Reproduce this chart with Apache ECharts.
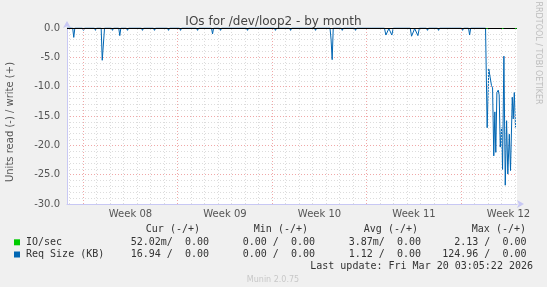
<!DOCTYPE html>
<html>
<head>
<meta charset="utf-8">
<script src="https://cdn.jsdelivr.net/npm/echarts@6/dist/echarts.min.js"></script>
<style>
html,body{margin:0;padding:0;background:#F0F0F0;}
#c{width:547px;height:287px;}
</style>
</head>
<body>
<div id="c"></div>
<script>
// ---- Data (x = days since start of Week 08) ----
const weekLabels = ['Week 08', 'Week 09', 'Week 10', 'Week 11', 'Week 12'];
const weekCenters = [3.5, 10.5, 17.5, 24.5, 31.5];
const weekStarts = [0, 7, 14, 21, 28];
const dayLines = [-1, 1, 2, 3, 4, 5, 6, 8, 9, 10, 11, 12, 13, 15, 16, 17, 18, 19, 20, 22, 23, 24, 25, 26, 27, 29, 30, 31, 32];

// Req Size (KB), read plotted negative
const reqTimes = [
  -1.20, -0.78, -0.70, -0.62, -0.06, 0.02, 0.10, 0.83, 0.91, 0.99,
  1.33, 1.41, 1.50, 1.58, 2.09, 2.17, 2.25, 2.63, 2.71, 2.79,
  3.20, 3.28, 3.36, 4.31, 4.39, 4.47, 5.20, 5.28, 5.36, 6.24, 6.32, 6.40,
  7.13, 7.21, 7.29, 8.39, 8.47, 8.55, 9.50, 9.58, 9.66, 10.09, 10.17, 10.25,
  11.05, 11.13, 11.21, 12.09, 12.17, 12.25, 13.05, 13.13, 13.21, 14.16, 14.24, 14.32,
  15.28, 15.36, 15.44, 16.24, 16.32, 16.40, 17.13, 17.21, 17.29,
  18.28, 18.36, 18.44, 18.52, 19.11, 19.19, 19.27, 20.09, 20.17, 20.25, 21.20, 21.28, 21.36,
  22.31, 22.42, 22.64, 22.86, 22.97, 24.22, 24.32, 24.55, 24.79, 24.90,
  25.42, 25.50, 25.58, 26.24, 26.32, 26.40, 27.28, 27.36, 27.44, 28.02, 28.10, 28.18,
  28.54, 28.62, 28.70, 29.80, 29.92, 30.04, 30.16, 30.24, 30.32, 30.41, 30.49, 30.56,
  30.64, 30.74, 30.81, 30.89, 30.99, 31.06, 31.16, 31.26, 31.36, 31.45, 31.56, 31.65,
  31.78, 31.85, 31.93, 32.02
];
const reqRead = [
  0, 0, -1.6, 0, 0, -0.4, 0, 0, -0.4, 0,
  0, -5.5, -5.6, 0, 0, -0.4, 0, 0, -1.3, 0,
  0, -0.4, 0, 0, -0.4, 0, 0, -0.4, 0, 0, -0.4, 0,
  0, -0.4, 0, 0, -0.4, 0, 0, -1.0, 0, 0, -0.4, 0,
  0, -0.3, 0, 0, -0.4, 0, 0, -0.3, 0, 0, -0.4, 0,
  0, -0.4, 0, 0, -0.3, 0, 0, -0.4, 0,
  0, -2.0, -5.4, 0, 0, -0.4, 0, 0, -0.4, 0, 0, -0.3, 0,
  0, -1.2, -0.1, -1.2, 0, 0, -1.4, -0.1, -1.3, 0,
  0, -0.4, 0, 0, -0.4, 0, 0, -0.3, 0, 0, -0.4, 0,
  0, -1.2, 0, 0, -17.0, -7.0, -7.0, -9.8, -10.2, -21.8, -14.3, -21.2,
  -11.0, -10.6, -11.4, -20.3, -17.0, -24.1, -4.8, -26.8, -15.8, -24.9, -18.1, -24.3,
  -11.8, -15.5, -11.0, -16.94
];

// IO/sec, read plotted negative (tiny values)
const ioTimes = [29.86, 29.96, null, 31.02, 31.12, null, 31.98, 32.10];
const ioRead = [-0.08, -0.08, null, -0.08, -0.08, null, -0.08, -0.08];

// Legend statistics
const statHeaders = ['Cur (-/+)', 'Min (-/+)', 'Avg (-/+)', 'Max (-/+)'];
const ioReadStats = ['52.02m', '0.00', '3.87m', '2.13'];
const ioWriteStats = ['0.00', '0.00', '0.00', '0.00'];
const reqReadStats = ['16.94', '0.00', '1.12', '124.96'];
const reqWriteStats = ['0.00', '0.00', '0.00', '0.00'];
const seriesNames = ['IO/sec', 'Req Size (KB)'];
const seriesColors = ['#00CC00', '#0066B3'];
const lastUpdate = 'Last update: Fri Mar 20 03:05:22 2026';

// ---- Build ----
const reqData = reqTimes.map((t, i) => [t, reqRead[i]]);
const ioData = ioTimes.map((t, i) => t === null ? [null, null] : [t, ioRead[i]]);

const mono = '"DejaVu Sans Mono", monospace';
const sans = '"DejaVu Sans", sans-serif';

function statStr(r, w) {
  return r + (r.endsWith('m') ? '/' : ' /') + '  ' + w;
}
const colRight = [209, 315, 421, 526.5];
const headRight = [200, 308, 418, 526];
const rowY = [242.3, 254.5];

const graphics = [];
statHeaders.forEach((h, i) => {
  graphics.push({type: 'text', style: {text: h, x: headRight[i], y: 229, font: '10px ' + mono, fill: '#333', textAlign: 'right', textVerticalAlign: 'middle'}});
});
[[ioReadStats, ioWriteStats], [reqReadStats, reqWriteStats]].forEach((pair, r) => {
  graphics.push({type: 'rect', shape: {x: 14, y: rowY[r] - 3, width: 6, height: 6}, style: {fill: seriesColors[r]}});
  graphics.push({type: 'text', style: {text: seriesNames[r], x: 26, y: rowY[r], font: '10px ' + mono, fill: '#333', textAlign: 'left', textVerticalAlign: 'middle'}});
  pair[0].forEach((v, c) => {
    graphics.push({type: 'text', style: {text: statStr(v, pair[1][c]), x: colRight[c], y: rowY[r], font: '10px ' + mono, fill: '#333', textAlign: 'right', textVerticalAlign: 'middle'}});
  });
});
graphics.push({type: 'text', style: {text: lastUpdate, x: 533, y: 266.8, font: '10px ' + mono, fill: '#333', textAlign: 'right', textVerticalAlign: 'middle'}});
graphics.push({type: 'text', style: {text: 'Munin 2.0.75', x: 273, y: 280, font: '8px ' + sans, fill: '#C8C8C8', textAlign: 'center', textVerticalAlign: 'middle'}});
graphics.push({type: 'text', x: 538, y: 53, rotation: -Math.PI / 2, style: {text: 'RRDTOOL / TOBI OETIKER', x: 0, y: 0, font: '8px ' + sans, fill: '#BDBDBD', textAlign: 'center', textVerticalAlign: 'middle'}});
graphics.push({type: 'text', x: 10, y: 122, rotation: Math.PI / 2, style: {text: 'Units read (-) / write (+)', x: 0, y: 0, font: '10px ' + sans, fill: '#555', textAlign: 'center', textVerticalAlign: 'middle'}});

const chart = echarts.init(document.getElementById('c'), null, {renderer: 'canvas'});
chart.setOption({
  backgroundColor: '#F0F0F0',
  animation: false,
  title: {
    text: 'IOs for /dev/loop2 - by month',
    left: 'center', top: 11,
    textStyle: {fontFamily: sans, fontSize: 12, fontWeight: 'normal', color: '#444'}
  },
  grid: {left: 67, top: 28, width: 450, height: 176, show: true, backgroundColor: '#FFFFFF', borderWidth: 0},
  xAxis: {
    type: 'value', min: -1.2, max: 32.13,
    axisLine: {show: true, onZero: false, lineStyle: {color: '#C8C8F4', width: 1}, symbol: ['none', 'arrow'], symbolSize: [6, 7], symbolOffset: [0, 7]},
    axisTick: {show: false},
    splitLine: {show: false},
    axisLabel: {
      customValues: weekCenters,
      formatter: function (v) {
        let best = 0;
        weekCenters.forEach((c, i) => { if (Math.abs(c - v) < Math.abs(weekCenters[best] - v)) best = i; });
        return weekLabels[best];
      },
      fontFamily: sans, fontSize: 10, color: '#555', margin: 5
    }
  },
  yAxis: {
    type: 'value', min: -30, max: 0, interval: 5,
    axisLine: {show: true, onZero: false, lineStyle: {color: '#C8C8F4', width: 1}, symbol: ['none', 'arrow'], symbolSize: [6, 7], symbolOffset: [0, 7]},
    axisTick: {show: false},
    axisLabel: {formatter: v => v.toFixed(1), fontFamily: sans, fontSize: 10, color: '#555', margin: 7},
    splitLine: {show: true, lineStyle: {color: '#F0A8A8', type: [1, 2], width: 1}},
    minorTick: {show: false, splitNumber: 5},
    minorSplitLine: {show: true, lineStyle: {color: '#DCDCDC', type: [1, 2], width: 1}}
  },
  graphic: {elements: graphics},
  series: [
    {
      type: 'line', data: [], z: 1, silent: true,
      markLine: {
        silent: true, symbol: ['none', 'none'], label: {show: false}, animation: false,
        data: dayLines.map(d => ({xAxis: d, lineStyle: {color: '#DCDCDC', type: [1, 2], width: 1}}))
          .concat(weekStarts.map(d => ({xAxis: d, lineStyle: {color: '#F0A8A8', type: [1, 2], width: 1}})))
      }
    },
    {
      name: seriesNames[1], type: 'line', data: reqData, z: 3,
      showSymbol: false, symbol: 'none',
      lineStyle: {color: seriesColors[1], width: 1}
    },
    {
      name: seriesNames[0], type: 'line', data: ioData, z: 5, connectNulls: false,
      showSymbol: false, symbol: 'none',
      lineStyle: {color: seriesColors[0], width: 1}
    },
    {
      type: 'line', data: [], z: 4, silent: true,
      markLine: {
        silent: true, symbol: ['none', 'none'], label: {show: false}, animation: false,
        data: [{yAxis: 0, lineStyle: {color: '#000000', type: 'solid', width: 1}}]
      }
    }
  ]
});
</script>
</body>
</html>
